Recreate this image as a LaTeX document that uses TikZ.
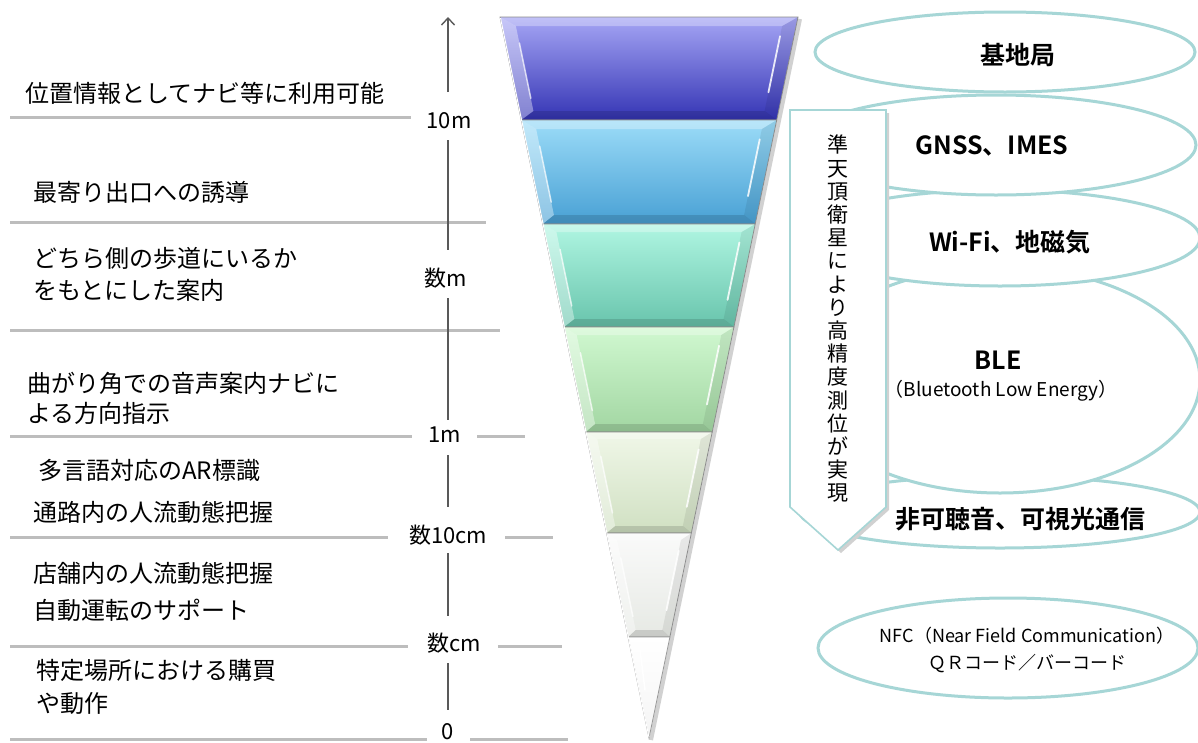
\documentclass[tikz,border=0pt]{standalone}
\usepackage{fontspec}
\setmainfont{Noto Sans CJK JP}[BoldFont={Noto Sans CJK JP Bold}]
\usetikzlibrary{arrows.meta,calc,shapes.geometric}
\definecolor{diskc}{HTML}{A6D6D6}
\definecolor{gline}{HTML}{BDBDBD}
\newcommand\fband[6]{%
\definecolor{fbtop}{HTML}{#3}\definecolor{fbbot}{HTML}{#4}%
\pgfmathsetmacro\fbLa{500+0.2066574*((#1)-17)}%
\pgfmathsetmacro\fbRa{798-0.2066574*((#1)-17)}%
\pgfmathsetmacro\fbLb{500+0.2066574*((#2)-17)}%
\pgfmathsetmacro\fbRb{798-0.2066574*((#2)-17)}%
\pgfmathsetmacro\fbYa{(#1)+(#6)}%
\pgfmathsetmacro\fbYb{(#2)-(#6)}%
\pgfmathsetmacro\fbILa{500+0.2066574*(\fbYa-17)+(#5)}%
\pgfmathsetmacro\fbIRa{798-0.2066574*(\fbYa-17)-(#5)}%
\pgfmathsetmacro\fbILb{500+0.2066574*(\fbYb-17)+(#5)}%
\pgfmathsetmacro\fbIRb{798-0.2066574*(\fbYb-17)-(#5)}%
\shade[top color=fbtop, bottom color=fbbot] (\fbLa,#1)--(\fbRa,#1)--(\fbRb,#2)--(\fbLb,#2)--cycle;
\fill[white,opacity=.30] (\fbLa,#1)--(\fbRa,#1)--(\fbIRa,\fbYa)--(\fbILa,\fbYa)--cycle;
\fill[white,opacity=.38] (\fbLa,#1)--(\fbILa,\fbYa)--(\fbILb,\fbYb)--(\fbLb,#2)--cycle;
\fill[black,opacity=.07] (\fbRa,#1)--(\fbIRa,\fbYa)--(\fbIRb,\fbYb)--(\fbRb,#2)--cycle;
\fill[black,opacity=.13] (\fbLb,#2)--(\fbILb,\fbYb)--(\fbIRb,\fbYb)--(\fbRb,#2)--cycle;
\draw[white,opacity=.85,line width=1.8pt,line cap=round] ($(\fbIRa,\fbYa)!.12!(\fbIRb,\fbYb)$) -- ($(\fbIRa,\fbYa)!.78!(\fbIRb,\fbYb)$);
\draw[white,opacity=.7,line width=1.5pt,line cap=round] ($(\fbILa,\fbYa)!.2!(\fbILb,\fbYb)$) -- ($(\fbILa,\fbYa)!.85!(\fbILb,\fbYb)$);
\draw[black!45,line width=.8pt] (\fbLa,#1)--(\fbRa,#1)--(\fbRb,#2)--(\fbLb,#2)--cycle;
}
\begin{document}
\begin{tikzpicture}[x=1pt,y=-1pt,
  lefttxt/.style={anchor=west,font=\fontsize{24}{32}\selectfont,align=left,inner sep=0},
  scalelbl/.style={font=\fontsize{22}{26}\selectfont,minimum height=44pt,inner sep=0},
  hline/.style={draw=gline,line width=3pt},
  axis/.style={draw=black!65,line width=1.4pt},
  disk/.style={ellipse,draw=diskc,line width=3pt,fill=white,inner sep=0},
  disklbl/.style={font=\bfseries\fontsize{25}{30}\selectfont,inner sep=0},
  smalllbl/.style={font=\fontsize{18}{27}\selectfont,align=center,inner sep=0}]
\useasboundingbox (0,0) rectangle (1198,742);
\fill[white] (0,0) rectangle (1198,742);

% left horizontal rules
\draw[hline] (10,117) -- (411,117);
\draw[hline] (10,222) -- (486,222);
\draw[hline] (10,330) -- (500,330);
\draw[hline] (10,436) -- (412,436);
\draw[hline] (477,436) -- (525,436);
\draw[hline] (10,537) -- (388,537);
\draw[hline] (505,537) -- (553,537);
\draw[hline] (10,646) -- (408,646);
\draw[hline] (498,646) -- (562,646);
\draw[hline] (10,739) -- (427,739);
\draw[hline] (470,739) -- (568,739);

% scale labels
\node[scalelbl] (t10m) at (449,121) {10m};
\node[scalelbl] (tsm) at (446,278) {数m};
\node[scalelbl] (t1m) at (445,435) {1m};
\node[scalelbl] (t10cm) at (448,535) {数10cm};
\node[scalelbl] (tcm) at (454,643) {数cm};
\node[font=\fontsize{22}{26}\selectfont,inner sep=0] (t0) at (448,732) {0};
\coordinate (atop) at (448,17);
\coordinate (c10m) at (448,121);
\coordinate (csm) at (448,278);
\coordinate (c1m) at (448,435);
\coordinate (c10cm) at (448,535);
\coordinate (ccm) at (448,643);
\coordinate (c0) at (448,742);
\draw[axis,-{Straight Barb[length=7pt,width=13pt]}] ($(c10m)+(0,-29)$) -- (atop);
\draw[axis] ($(c10m)+(0,19)$) -- ($(csm)+(0,-28)$);
\draw[axis] ($(csm)+(0,20)$) -- ($(c1m)+(0,-15)$);
\draw[axis] ($(c1m)+(0,20)$) -- ($(c10cm)+(0,-28)$);
\draw[axis] ($(c10cm)+(0,18)$) -- ($(ccm)+(0,-27)$);
\draw[axis] ($(ccm)+(0,20)$) -- ($(c0)+(0,-32)$);

% left descriptions
\node[lefttxt] (d1) at (25,93) {位置情報としてナビ等に利用可能};
\node[lefttxt] (d2) at (33,192) {最寄り出口への誘導};
\node[lefttxt] (d3) at (33,274) {どちら側の歩道にいるか\\をもとにした案内};
\node[lefttxt,font=\fontsize{24}{30}\selectfont] (d4) at (27,398) {曲がり角での音声案内ナビに\\よる方向指示};
\node[lefttxt] (d5) at (38,470) {多言語対応のAR標識};
\node[lefttxt] (d6) at (33,512) {通路内の人流動態把握};
\node[lefttxt] (d7) at (33,573) {店舗内の人流動態把握};
\node[lefttxt] (d8) at (33,610) {自動運転のサポート};
\node[lefttxt,font=\fontsize{24}{33}\selectfont] (d9) at (36,687) {特定場所における購買\\や動作};

% funnel
\draw[black!18,line width=4pt] (800,19) -- (651,740);
\fband{17}{120}{A6A6F5}{3434B4}{14}{9}
\fband{120}{224}{9CDCF8}{48A0D4}{13}{9}
\fband{224}{327}{B0F6E2}{68C4AC}{12}{8}
\fband{327}{432}{D0F8D0}{A2D6A2}{11}{8}
\fband{432}{533}{F0F7E8}{D0E0C2}{10}{7}
\fband{533}{637}{FAFAFA}{E6E9E4}{9}{7}
\shade[top color=white,bottom color=black!4] (628.1,637)--(669.9,637)--(649,738)--cycle;
\draw[white,line width=1.5pt,line cap=round] (640,650) -- (645,690);
\draw[black!40,line width=.8pt] (628.1,637)--(669.9,637)--(649,738)--cycle;
\draw[white,line width=1pt] (500.5,18) -- (649,737);

% right disks (lower first, upper ones on top)
\node[disk,minimum width=400pt,minimum height=72pt] (e5) at (1000,512) {};
\node[disk,minimum width=400pt,minimum height=226pt] (e4) at (1000,380) {};
\node[disk,minimum width=400pt,minimum height=96pt] (e3) at (1000,238) {};
\node[disk,minimum width=400pt,minimum height=100pt] (e2) at (996,145) {};
\node[disk,minimum width=380pt,minimum height=80pt] (e1) at (1005,52) {};
\node[disk,minimum width=380pt,minimum height=100pt] (e6) at (1008,648) {};

\node[disklbl] (l1) at (1018,55) {基地局};
\node[disklbl] (l2) at (992,146) {GNSS、IMES};
\node[disklbl] (l3) at (1010,242) {Wi-Fi、地磁気};
\node[disklbl] (l4) at (998,360) {BLE};
\node[smalllbl,font=\fontsize{19}{27}\selectfont] (l4b) at (1001,391) {（Bluetooth Low Energy）};
\node[disklbl] (l5) at (1020,519) {非可聴音、可視光通信};
\node[smalllbl] (l6) at (1027,650) {NFC（Near Field Communication）\\ＱＲコード／バーコード};

% down arrow box
\fill[black!18] (793,113)--(889,113)--(889,510)--(841,553)--(793,510)--cycle;
\draw[fill=white,draw=diskc,line width=1.6pt] (790,110)--(886,110)--(886,507)--(838,550)--(790,507)--cycle;
\node[font=\fontsize{21}{23.2}\selectfont,align=center,inner sep=0] (vt) at (838,319)
 {準\\天\\頂\\衛\\星\\に\\よ\\り\\高\\精\\度\\測\\位\\が\\実\\現};
\end{tikzpicture}
\end{document}
